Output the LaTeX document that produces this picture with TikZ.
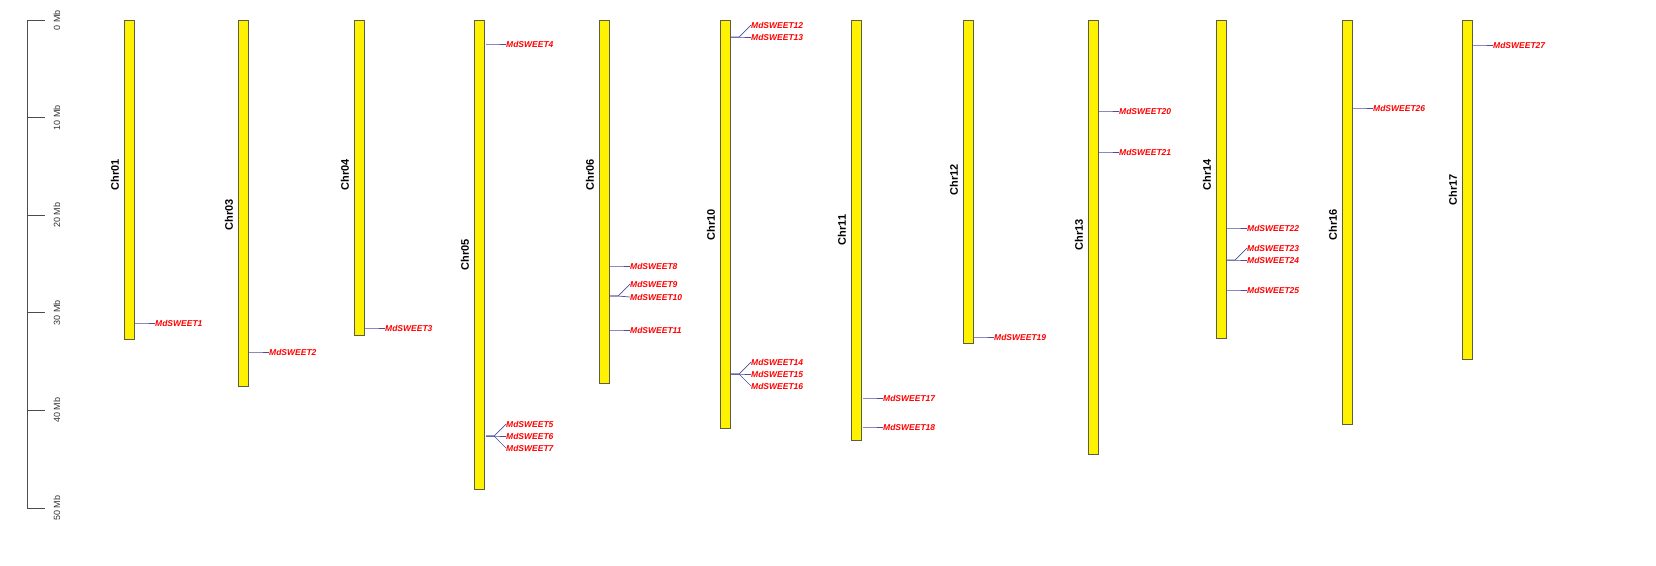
\documentclass[tikz,border=0pt]{standalone}
\usepackage{fontspec}
\setmainfont{Liberation Sans}
\begin{document}
\begin{tikzpicture}[x=1pt,y=-1pt,
  chrom/.style={draw=black!60!yellow!70!black,fill=yellow,line width=0.8pt},
  chrlab/.style={rotate=90,font=\bfseries\fontsize{11}{12}\selectfont},
  glab/.style={anchor=west,inner sep=0pt,text=red,font=\bfseries\itshape\fontsize{8.5}{9}\selectfont},
  conn/.style={draw=black!20!blue!40!gray,line width=0.7pt},
  ax/.style={draw=black!70,line width=0.8pt},
  axlab/.style={rotate=90,font=\fontsize{9}{10}\selectfont,text=black!80}]
\useasboundingbox (0,0) rectangle (1656,565);
% scale axis
\draw[ax] (27,20) -- (27,508);
\foreach \i/\t in {0/0,1/10,2/20,3/30,4/40,5/50}{
  \pgfmathsetmacro\yy{20+\i*97.6}
  \draw[ax] (27,\yy) -- (45,\yy);
  \node[axlab] (ax\i) at (57,\yy) {\t\ Mb};
}
% chromosomes: name, left x, bottom, label y
\foreach \n/\x/\b/\ly in {01/124/339/175,03/238/386/215,04/354/335/175,05/474/489/255,06/599/383/175,10/720/428/225,11/851/440/230,12/963/343/180,13/1088/454/235,14/1216/338/175,16/1342/424/225,17/1462/359/190}{
  \draw[chrom] (\x,20) rectangle (\x+10,\b);
  \node[chrlab] (c\n) at (\x-9,\ly) {Chr\n};
}
% genes: number / chromosome right x / branch y / label y
\foreach \g/\r/\by/\ly in {1/134/323/323,2/248/352/352,3/364/328/328,4/485/44/44,5/485/436/424,6/485/436/436,7/485/436/448,8/609/266/266,9/609/296/284,10/609/296/297,11/609/330/330,12/730/37/25,13/730/37/37,14/730/374/362,15/730/374/374,16/730/374/386,17/862/398/398,18/862/427/427,19/973/337/337,20/1098/111/111,21/1098/152/152,22/1226/228/228,23/1226/260/248,24/1226/260/260,25/1226/290/290,26/1352/108/108,27/1472/45/45}{
  \node[glab] (g\g) at (\r+21,\ly) {MdSWEET\g};
  \coordinate (b\g) at (\r+1,\by);
  \coordinate (k\g) at (\r+9,\by);
  \draw[conn] (b\g) -- (k\g) -- (g\g.west);
}
\end{tikzpicture}
\end{document}
